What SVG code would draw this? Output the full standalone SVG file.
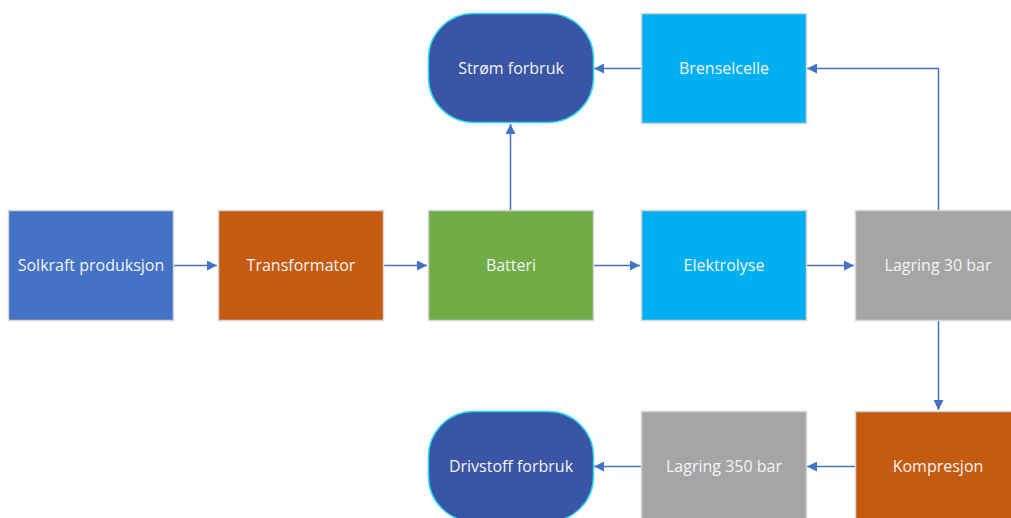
<svg xmlns="http://www.w3.org/2000/svg" width="1011" height="518" viewBox="0 0 1011 518">
<defs>
<style>
.box{stroke:#d6d6d6;stroke-width:1.5}
.oval{fill:#3a55a4;stroke:#2fd8f0;stroke-width:1.5}
.lbl{font-family:"Open Sans","Liberation Sans",sans-serif;font-size:16px;fill:#f4f4f4;text-anchor:middle}
.con{fill:none;stroke:#4472c4;stroke-width:1.5}
</style>
<marker id="arr" viewBox="0 0 10 10" refX="10" refY="5" markerWidth="10" markerHeight="10" markerUnits="userSpaceOnUse" orient="auto">
<path d="M0,0 L10,5 L0,10 z" fill="#4472c4"/>
</marker>
</defs>
<rect width="1011" height="518" fill="#ffffff"/>
<g id="connectors">
<line class="con" x1="173" y1="265.5" x2="217" y2="265.5" marker-end="url(#arr)"/>
<line class="con" x1="383" y1="265.5" x2="427" y2="265.5" marker-end="url(#arr)"/>
<line class="con" x1="593" y1="265.5" x2="640" y2="265.5" marker-end="url(#arr)"/>
<line class="con" x1="806" y1="265.5" x2="854" y2="265.5" marker-end="url(#arr)"/>
<line class="con" x1="510.5" y1="210" x2="510.5" y2="124" marker-end="url(#arr)"/>
<line class="con" x1="641" y1="68.5" x2="594" y2="68.5" marker-end="url(#arr)"/>
<polyline class="con" points="938.5,210 938.5,68.5 807,68.5" marker-end="url(#arr)"/>
<line class="con" x1="938.5" y1="320" x2="938.5" y2="410" marker-end="url(#arr)"/>
<line class="con" x1="855" y1="466.5" x2="807" y2="466.5" marker-end="url(#arr)"/>
<line class="con" x1="641" y1="466.5" x2="594" y2="466.5" marker-end="url(#arr)"/>
</g>
<g id="solkraft">
<rect class="box" x="8.5" y="210.5" width="165" height="110" fill="#4472c4"/>
<text class="lbl" x="91" y="271">Solkraft produksjon</text>
</g>
<g id="transformator">
<rect class="box" x="218.5" y="210.5" width="165" height="110" fill="#c55a11"/>
<text class="lbl" x="301" y="271">Transformator</text>
</g>
<g id="batteri">
<rect class="box" x="428.5" y="210.5" width="165" height="110" fill="#70ad47"/>
<text class="lbl" x="511" y="271">Batteri</text>
</g>
<g id="elektrolyse">
<rect class="box" x="641.5" y="210.5" width="165" height="110" fill="#00b0f0"/>
<text class="lbl" x="724" y="271">Elektrolyse</text>
</g>
<g id="lagring30">
<rect class="box" x="855.5" y="210.5" width="165" height="110" fill="#a5a5a5"/>
<text class="lbl" x="938" y="271">Lagring 30 bar</text>
</g>
<g id="strom">
<rect class="oval" x="428.5" y="13.5" width="165" height="109" rx="45" ry="45"/>
<text class="lbl" x="511" y="74">Strøm forbruk</text>
</g>
<g id="brenselcelle">
<rect class="box" x="641.5" y="13.5" width="165" height="110" fill="#00b0f0"/>
<text class="lbl" x="724" y="74">Brenselcelle</text>
</g>
<g id="drivstoff">
<rect class="oval" x="428.5" y="411.5" width="165" height="110" rx="45" ry="45"/>
<text class="lbl" x="511" y="472">Drivstoff forbruk</text>
</g>
<g id="lagring350">
<rect class="box" x="641.5" y="411.5" width="165" height="110" fill="#a5a5a5"/>
<text class="lbl" x="724" y="472">Lagring 350 bar</text>
</g>
<g id="kompresjon">
<rect class="box" x="855.5" y="411.5" width="165" height="110" fill="#c55a11"/>
<text class="lbl" x="938" y="472">Kompresjon</text>
</g>
</svg>
